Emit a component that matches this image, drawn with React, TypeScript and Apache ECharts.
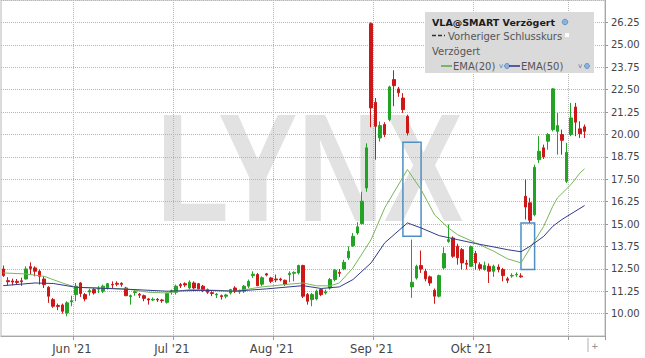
import React, { useEffect, useRef } from "react";
import * as echarts from "echarts";

// ---------- data ----------
const START_DATE = "2021-05-10";
const SLOT_COUNT = 133; // weekdays shown on the axis (last ones empty)

const monthLabels: Record<string, string> = {
  "06": "Jun '21",
  "07": "Jul '21",
  "08": "Aug '21",
  "09": "Sep '21",
  "10": "Okt '21",
  "11": "",
};

// [open, close, low, high]
const ohlc: number[][] = [
  [12.49, 12.12, 12.05, 12.68], [11.84, 11.78, 11.58, 12.03], [11.82, 11.76, 11.58, 11.95], [11.8, 11.74, 11.6, 11.93],
  [11.83, 11.78, 11.55, 12.0], [11.93, 12.49, 11.9, 12.64], [12.62, 12.52, 12.18, 12.86], [12.55, 12.36, 12.08, 12.64],
  [12.36, 12.08, 11.62, 12.46], [11.93, 11.62, 11.43, 12.08], [11.47, 10.97, 10.6, 11.53], [10.78, 10.41, 10.32, 10.87],
  [10.45, 10.4, 10.19, 10.56], [10.48, 10.13, 10.0, 10.56], [10.04, 10.6, 9.85, 10.69], [10.65, 10.72, 10.41, 11.0],
  [11.06, 11.53, 10.69, 11.71], [11.71, 11.12, 10.93, 11.75], [11.06, 10.82, 10.69, 11.15], [11.2, 11.28, 11.0, 11.38],
  [11.34, 11.15, 11.06, 11.43], [11.36, 11.42, 11.15, 11.53], [11.25, 11.53, 11.15, 11.62], [11.41, 11.67, 11.34, 11.71],
  [11.63, 11.6, 11.43, 11.8], [11.69, 11.64, 11.53, 11.8], [11.69, 11.63, 11.5, 11.75], [11.43, 11.0, 10.97, 11.49],
  [10.95, 11.0, 10.5, 11.06], [11.17, 11.22, 11.0, 11.3], [11.08, 11.03, 10.87, 11.15], [11.0, 10.85, 10.69, 11.06],
  [10.82, 10.76, 10.5, 10.87], [10.76, 10.8, 10.7, 10.9], [10.8, 10.76, 10.65, 10.87], [10.76, 10.72, 10.6, 10.82],
  [10.63, 11.12, 10.56, 11.19], [11.22, 11.28, 11.06, 11.34], [11.19, 11.53, 11.06, 11.62], [11.62, 11.55, 11.43, 11.71],
  [11.67, 11.6, 11.49, 11.75], [11.43, 11.75, 11.34, 11.86], [11.71, 11.43, 11.25, 11.8], [11.67, 11.38, 11.3, 11.71],
  [11.53, 11.3, 11.2, 11.6], [11.34, 11.19, 11.1, 11.4], [11.17, 11.12, 10.97, 11.25], [11.04, 11.08, 10.87, 11.15],
  [11.0, 10.95, 10.78, 11.06], [10.97, 11.04, 10.85, 11.1], [11.15, 11.34, 11.06, 11.38], [11.43, 11.25, 11.15, 11.53],
  [11.22, 11.28, 11.1, 11.34], [11.25, 11.53, 11.15, 11.6], [11.53, 11.8, 11.43, 11.9], [12.12, 12.2, 11.99, 12.36],
  [12.18, 11.56, 11.53, 12.27], [11.64, 12.0, 11.53, 12.08], [12.22, 12.15, 12.08, 12.27], [11.99, 11.8, 11.7, 12.05],
  [11.93, 11.88, 11.75, 12.18], [11.93, 11.88, 11.8, 12.0], [11.86, 11.62, 11.55, 11.9], [12.18, 12.25, 11.75, 12.36],
  [12.25, 12.3, 11.8, 12.36], [12.27, 12.68, 12.18, 12.73], [12.68, 10.97, 10.87, 12.73], [11.06, 10.69, 10.5, 11.15],
  [10.78, 11.06, 10.41, 11.15], [10.82, 11.25, 10.74, 11.34], [11.34, 11.06, 10.97, 11.41], [11.15, 11.22, 11.06, 11.34],
  [11.43, 11.9, 11.34, 11.99], [11.9, 12.42, 11.8, 12.49], [12.3, 12.25, 12.05, 12.49], [12.49, 12.86, 12.42, 13.0],
  [13.11, 13.48, 13.0, 13.75], [13.79, 14.31, 13.72, 14.5], [14.5, 14.84, 14.4, 15.1], [15.02, 16.27, 14.97, 16.8],
  [17.01, 19.25, 16.8, 19.5], [26.18, 21.48, 20.4, 26.25], [21.79, 20.45, 18.59, 22.03], [19.8, 20.49, 19.6, 20.72],
  [20.55, 19.99, 19.85, 20.68], [20.83, 22.65, 20.73, 22.72], [23.06, 22.72, 21.57, 23.58], [22.54, 22.32, 22.1, 22.65],
  [22.03, 21.38, 21.2, 22.3], [21.01, 20.08, 19.94, 21.1], [11.49, 11.75, 10.88, 14.13], [11.99, 12.64, 11.9, 12.73],
  [12.68, 12.49, 12.27, 13.52], [12.36, 11.94, 11.8, 12.5], [12.05, 11.71, 11.55, 12.12], [11.3, 10.97, 10.55, 11.4],
  [10.97, 12.12, 10.9, 12.18], [12.55, 13.35, 12.46, 13.7], [14.03, 14.13, 13.95, 14.97], [14.22, 13.2, 13.11, 14.31],
  [13.76, 13.11, 12.73, 13.9], [13.57, 12.83, 12.46, 13.66], [12.81, 12.75, 12.46, 13.0], [12.64, 13.73, 12.6, 13.8],
  [13.35, 12.83, 12.46, 13.5], [12.73, 12.52, 12.4, 12.86], [12.46, 12.68, 12.4, 12.9], [12.64, 12.36, 11.71, 12.8],
  [12.36, 12.64, 12.05, 12.73], [12.6, 12.46, 12.3, 12.75], [12.46, 12.12, 11.8, 12.55], [11.94, 11.86, 11.7, 12.05],
  [12.1, 12.13, 12.0, 12.25], [12.16, 12.19, 12.05, 12.3], [12.1, 12.05, 12.0, 12.25], [16.55, 15.95, 15.25, 17.48],
  [16.18, 15.21, 15.06, 16.46], [15.52, 18.16, 15.43, 18.31], [18.59, 19.06, 18.41, 19.9], [19.25, 18.74, 18.63, 19.43],
  [19.62, 19.99, 19.15, 20.08], [20.27, 22.54, 20.17, 22.59], [20.17, 20.49, 18.87, 21.2], [19.99, 19.67, 18.87, 20.27],
  [17.38, 19.0, 17.29, 19.53], [19.99, 20.92, 19.9, 21.76], [21.53, 20.68, 19.9, 21.76], [20.31, 20.04, 19.8, 20.73],
  [20.42, 20.17, 19.8, 20.55],
];

// [day index, value]
const ema20: number[][] = [
  [0, 12.27], [5, 12.21], [9, 12.08], [13, 11.71], [16, 11.47], [21, 11.43], [27, 11.38], [32, 11.19],
  [36, 11.15], [41, 11.34], [47, 11.3], [51, 11.25], [57, 11.49], [62, 11.62], [66, 11.71], [69, 11.55],
  [72, 11.55], [74, 11.71], [77, 12.55], [81, 14.13], [84, 15.9], [89, 18.04], [92, 16.92], [95, 15.5],
  [98, 14.78], [100, 14.41], [104, 13.95], [108, 13.48], [111, 13.06], [114, 12.83], [116, 13.65],
  [119, 14.87], [121, 15.99], [122, 16.45], [125, 17.2], [127, 17.85], [128, 18.08],
];
const ema50: number[][] = [
  [0, 11.56], [7, 11.71], [11, 11.68], [16, 11.47], [29, 11.34], [36, 11.25], [44, 11.3], [51, 11.25],
  [58, 11.38], [66, 11.56], [70, 11.4], [74, 11.49], [77, 11.9], [81, 12.83], [84, 13.95], [89, 15.06],
  [92, 14.78], [96, 14.35], [100, 14.13], [104, 13.91], [108, 13.72], [111, 13.57], [114, 13.45],
  [116, 13.76], [119, 14.31], [121, 14.87], [123, 15.25], [128, 16.03],
];

// gap markers: [from day, to day, top value, bottom value]
const gapBoxes: number[][] = [
  [88, 92, 19.56, 14.31],
  [114, 117, 15.06, 12.46],
];

const Y_MIN = 8.75;
const Y_MAX = 27.5;
const Y_STEP = 1.25;

// ---------- helpers ----------
function weekdays(start: string, n: number): string[] {
  const out: string[] = [];
  const d = new Date(start + "T00:00:00Z");
  while (out.length < n) {
    const wd = d.getUTCDay();
    if (wd !== 0 && wd !== 6) out.push(d.toISOString().slice(0, 10));
    d.setUTCDate(d.getUTCDate() + 1);
  }
  return out;
}

const FONT = '"DejaVu Sans", Verdana, sans-serif';

export default function App() {
  const ref = useRef<HTMLDivElement>(null);

  useEffect(() => {
    if (!ref.current) return;
    const chart = echarts.init(ref.current, undefined, { renderer: "svg" });
    const dates = weekdays(START_DATE, SLOT_COUNT);
    const isMonthStart = (i: number) =>
      i > 0 && dates[i] && dates[i].slice(5, 7) !== dates[i - 1].slice(5, 7);

    const green = "#23a323";
    const red = "#cc1818";

    chart.setOption({
      animation: false,
      backgroundColor: "#ffffff",
      grid: {
        left: 1,
        right: 40,
        top: 0,
        bottom: 22,
        show: true,
        borderColor: "#b8b8b8",
        borderWidth: 1,
      },
      xAxis: {
        type: "category",
        data: dates,
        boundaryGap: true,
        axisLine: { show: true, lineStyle: { color: "#a8a8a8" } },
        axisTick: {
          show: true,
          interval: (i: number) => isMonthStart(i),
          length: 4,
          lineStyle: { color: "#999" },
        },
        axisLabel: {
          interval: (i: number) => isMonthStart(i),
          formatter: (v: string) => monthLabels[v.slice(5, 7)] ?? "",
          fontFamily: FONT,
          fontSize: 11.5,
          color: "#444",
          margin: 7,
          padding: [0, 8, 0, 0],
        },
        splitLine: {
          show: true,
          interval: (i: number) => isMonthStart(i),
          lineStyle: { type: "dotted", color: "#b5b5b5" },
        },
      },
      yAxis: {
        type: "value",
        position: "right",
        min: Y_MIN,
        max: Y_MAX,
        interval: Y_STEP,
        axisLine: { show: true, lineStyle: { color: "#a8a8a8" } },
        axisTick: { show: true, length: 3, lineStyle: { color: "#999" } },
        axisLabel: {
          showMinLabel: false,
          showMaxLabel: false,
          formatter: (v: number) => v.toFixed(2),
          fontFamily: FONT,
          fontSize: 10,
          color: "#444",
          margin: 6,
        },
        splitLine: { show: true, lineStyle: { type: "dotted", color: "#b5b5b5" } },
      },
      series: [
        {
          type: "candlestick",
          data: ohlc,
          barWidth: 3,
          itemStyle: {
            color: green,
            color0: red,
            borderColor: green,
            borderColor0: red,
            borderWidth: 1,
          },
          markArea: {
            silent: true,
            itemStyle: {
              color: "rgba(0,0,0,0)",
              borderColor: "#4d8fc6",
              borderWidth: 1.5,
            },
            data: gapBoxes.map((g) => [
              { coord: [g[0], g[2]] },
              { coord: [g[1], g[3]] },
            ]),
          },
          z: 3,
        },
        {
          type: "line",
          data: ema20,
          showSymbol: false,
          lineStyle: { color: "#7ab65a", width: 1 },
          z: 4,
        },
        {
          type: "line",
          data: ema50,
          showSymbol: false,
          lineStyle: { color: "#333a8c", width: 1 },
          z: 4,
        },
      ],
      graphic: [
        {
          type: "text",
          z: -1,
          silent: true,
          x: 156,
          y: 167,
          scaleX: 0.77,
          style: {
            text: "LYNX",
            fontFamily: '"Liberation Sans", Arial, sans-serif',
            fontWeight: "bold",
            fontSize: 155,
            fill: "#e2e2e2",
            align: "left",
            verticalAlign: "middle",
          },
        },
        {
          type: "rect",
          z: 100,
          shape: { x: 425, y: 12, width: 169, height: 61 },
          style: { fill: "#dadada" },
        },
        {
          type: "text",
          z: 101,
          x: 432,
          y: 22,
          style: {
            text: "VLA@SMART Verzögert",
            fontFamily: FONT,
            fontWeight: "bold",
            fontSize: 9.5,
            fill: "#1c1c1c",
            verticalAlign: "middle",
          },
        },
        {
          type: "circle",
          z: 101,
          shape: { cx: 565, cy: 22, r: 2.8 },
          style: { fill: "#8db3dc", stroke: "#5a86bb", lineWidth: 0.8 },
        },
        {
          type: "line",
          z: 101,
          shape: { x1: 432, y1: 35.5, x2: 445, y2: 35.5 },
          style: { stroke: "#333", lineWidth: 1.5, lineDash: [4, 2] },
        },
        {
          type: "text",
          z: 101,
          x: 448,
          y: 36,
          style: {
            text: "Vorheriger Schlusskurs",
            fontFamily: FONT,
            fontSize: 10,
            fill: "#555",
            verticalAlign: "middle",
          },
        },
        {
          type: "rect",
          z: 101,
          shape: { x: 565, y: 33, width: 4, height: 4 },
          style: { fill: "#ffffff" },
        },
        {
          type: "text",
          z: 101,
          x: 432,
          y: 51,
          style: {
            text: "Verzögert",
            fontFamily: FONT,
            fontSize: 10,
            fill: "#555",
            verticalAlign: "middle",
          },
        },
        {
          type: "line",
          z: 101,
          shape: { x1: 441, y1: 66, x2: 452, y2: 66 },
          style: { stroke: "#5aa83a", lineWidth: 1.5 },
        },
        {
          type: "text",
          z: 101,
          x: 453,
          y: 66,
          style: {
            text: "EMA(20)",
            fontFamily: FONT,
            fontSize: 10,
            fill: "#555",
            verticalAlign: "middle",
          },
        },
        {
          type: "text",
          z: 101,
          x: 499,
          y: 66,
          style: { text: "v", fontFamily: FONT, fontSize: 7, fill: "#4a7fc0", verticalAlign: "middle" },
        },
        {
          type: "circle",
          z: 101,
          shape: { cx: 507, cy: 66, r: 2.5 },
          style: { fill: "#8db3dc", stroke: "#5a86bb", lineWidth: 0.8 },
        },
        {
          type: "line",
          z: 101,
          shape: { x1: 509, y1: 66, x2: 520, y2: 66 },
          style: { stroke: "#2b2f8a", lineWidth: 1.5 },
        },
        {
          type: "text",
          z: 101,
          x: 521,
          y: 66,
          style: {
            text: "EMA(50)",
            fontFamily: FONT,
            fontSize: 10,
            fill: "#555",
            verticalAlign: "middle",
          },
        },
        {
          type: "text",
          z: 101,
          x: 578,
          y: 66,
          style: { text: "v", fontFamily: FONT, fontSize: 7, fill: "#4a7fc0", verticalAlign: "middle" },
        },
        {
          type: "circle",
          z: 101,
          shape: { cx: 587, cy: 66, r: 2.5 },
          style: { fill: "#8db3dc", stroke: "#5a86bb", lineWidth: 0.8 },
        },
        {
          type: "line",
          z: 101,
          shape: { x1: 588, y1: 338, x2: 588, y2: 352 },
          style: { stroke: "#b0b0b0", lineWidth: 1 },
        },
        {
          type: "text",
          z: 101,
          x: 591,
          y: 346,
          style: { text: "+", fontFamily: FONT, fontSize: 9, fill: "#888", verticalAlign: "middle" },
        },
      ],
    });

    return () => chart.dispose();
  }, []);

  return (
    <div
      ref={ref}
      style={{ position: "fixed", left: 0, top: 0, width: 645, height: 358 }}
    />
  );
}
